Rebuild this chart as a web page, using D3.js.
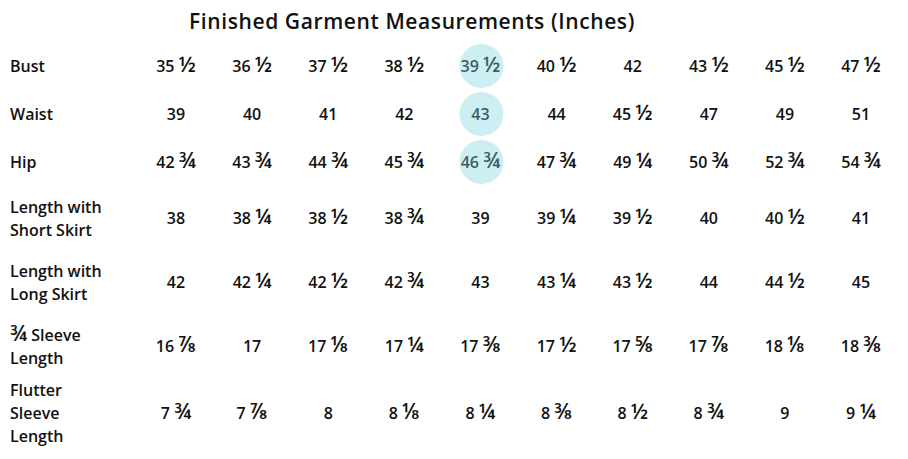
<!DOCTYPE html>
<html><head><meta charset="utf-8">
<script src="https://cdn.jsdelivr.net/npm/d3@7"></script>
<style>body{margin:0;background:#fff}</style></head>
<body><svg id="c" width="908" height="459"></svg>
<script>
const title = "Finished Garment Measurements (Inches)";
const sizes = ["1","2","3","4","5","6","7","8","9","10"];
const rowLabels = [["Bust"],["Waist"],["Hip"],["Length with","Short Skirt"],["Length with","Long Skirt"],["¾ Sleeve","Length"],["Flutter","Sleeve","Length"]];
const bust = ["35 ½","36 ½","37 ½","38 ½","39 ½","40 ½","42","43 ½","45 ½","47 ½"];
const waist = ["39","40","41","42","43","44","45 ½","47","49","51"];
const hip = ["42 ¾","43 ¾","44 ¾","45 ¾","46 ¾","47 ¾","49 ¼","50 ¾","52 ¾","54 ¾"];
const shortSkirt = ["38","38 ¼","38 ½","38 ¾","39","39 ¼","39 ½","40","40 ½","41"];
const longSkirt = ["42","42 ¼","42 ½","42 ¾","43","43 ¼","43 ½","44","44 ½","45"];
const sleeve34 = ["16 ⅞","17","17 ⅛","17 ¼","17 ⅜","17 ½","17 ⅝","17 ⅞","18 ⅛","18 ⅜"];
const flutter = ["7 ¾","7 ⅞","8","8 ⅛","8 ¼","8 ⅜","8 ½","8 ¾","9","9 ¼"];
const highlightSize = "5";
const highlightRows = [0,1,2];

const rows = [bust,waist,hip,shortSkirt,longSkirt,sleeve34,flutter];
const svg = d3.select("#c");
const font = "'Open Sans', sans-serif";
const fracRe = /[½¼¾⅛⅜⅝⅞]/;
function addText(sel, str){
  str.split(/([½¼¾⅛⅜⅝⅞])/).filter(s=>s.length).forEach(s=>{
    const ts = sel.append("tspan").text(s);
    if (fracRe.test(s)) ts.attr("font-size",21);
  });
}
svg.append("text").attr("x",412).attr("y",29).attr("text-anchor","middle")
  .attr("font-family",font).attr("font-size",21).attr("font-weight",600).attr("fill","#111")
  .attr("letter-spacing",0.6).text(title);

const x = d3.scalePoint().domain(sizes).range([176,861]);
const heights = rowLabels.map(l=>32+16*l.length);
const centers=[]; let c=66;
heights.forEach((h,i)=>{ if(i>0) c+= (heights[i-1]+h)/2; centers.push(c); });
centers[centers.length-1]+= -5;
const y = d3.scaleOrdinal().domain(d3.range(rows.length)).range(centers);

highlightRows.forEach(r=>{
  svg.append("circle").attr("cx",x(highlightSize)+1).attr("cy",y(r)).attr("r",22).attr("fill","#cdeff3");
});

rowLabels.forEach((lines,i)=>{
  const t = svg.append("text").attr("font-family",font).attr("font-size",16)
    .attr("font-weight",600).attr("fill","#111");
  lines.forEach((ln,j)=>{
    const ts = t.append("tspan").attr("x",10).attr("y", y(i) + (j-(lines.length-1)/2)*23 + 6);
    addText(ts, ln);
  });
  rows[i].forEach((v,k)=>{
    const hl = sizes[k]===highlightSize && highlightRows.includes(i);
    const tx = svg.append("text").attr("x",x(sizes[k])).attr("y",y(i)+6).attr("text-anchor","middle")
      .attr("font-family",font).attr("font-size",16).attr("font-weight",600)
      .attr("fill", hl ? "#3e5c66" : "#111");
    addText(tx, v);
  });
});
</script></body></html>
